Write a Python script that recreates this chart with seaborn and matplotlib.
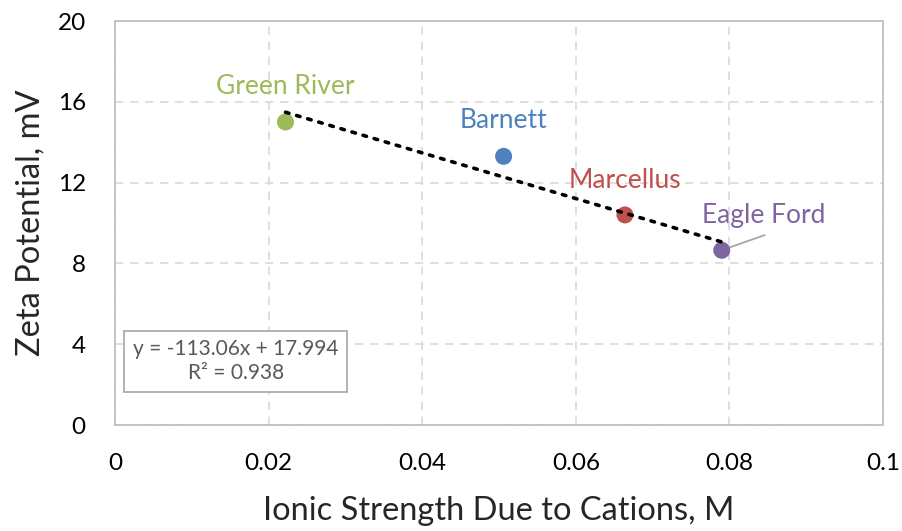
import matplotlib
matplotlib.use("Agg")
import matplotlib.pyplot as plt
import seaborn as sns
import numpy as np
import pandas as pd

# Shale samples: ionic strength from cations vs. measured zeta potential
shales = ["Green River", "Barnett", "Marcellus", "Eagle Ford"]
ionic_strength = [0.0222, 0.0506, 0.0664, 0.0790]
zeta_mv = [15.0, 13.3, 10.4, 8.65]
colors = ["#9BBB59", "#4F81BD", "#C0504D", "#8064A2"]

# Linear trendline as reported
slope = -113.06
intercept = 17.994
r_squared = 0.938

x_ticks = [0, 0.02, 0.04, 0.06, 0.08, 0.1]
x_tick_labels = ["0", "0.02", "0.04", "0.06", "0.08", "0.1"]
y_ticks = [0, 4, 8, 12, 16, 20]

df = pd.DataFrame({"shale": shales, "I": ionic_strength, "zeta": zeta_mv})

sns.set_theme(style="white")
plt.rcParams["font.family"] = ["Lato", "DejaVu Sans"]

fig = plt.figure(figsize=(9.03, 5.31), dpi=100)
ax = fig.add_axes([115 / 903, 1 - 425 / 531, (883 - 115) / 903, (425 - 21) / 531])

sns.scatterplot(data=df, x="I", y="zeta", hue="shale", palette=colors,
                s=150, edgecolor="none", legend=False, ax=ax, zorder=3)

xs = np.array([min(ionic_strength), max(ionic_strength)])
ax.plot(xs, slope * xs + intercept, color="black", linestyle=(0, (1, 2.2)),
        linewidth=2.6, dash_capstyle="round", zorder=4)

ax.set_xlim(0, 0.1)
ax.set_ylim(0, 20)
ax.set_xticks(x_ticks)
ax.set_xticklabels(x_tick_labels)
ax.set_yticks(y_ticks)
ax.grid(True, color="#D9D9D9", linestyle=(0, (5, 4)), linewidth=1.2)
for sp in ax.spines.values():
    sp.set_color("#BFBFBF")
    sp.set_linewidth(1.3)
ax.tick_params(axis="both", length=0, labelsize=17.5, colors="#000000")
ax.tick_params(axis="x", pad=20)
ax.tick_params(axis="y", pad=21)

ax.set_xlabel("Ionic Strength Due to Cations, M", fontsize=23.5)
ax.set_ylabel("Zeta Potential, mV", fontsize=23.5)
ax.xaxis.set_label_coords(0.5, -0.175)
ax.yaxis.set_label_coords(-0.09, 0.5)

# Sample name labels
offsets = {"Green River": (0.0, 1.75), "Barnett": (0.0, 1.75),
           "Marcellus": (0.0, 1.7), "Eagle Ford": (0.0055, 1.7)}
for name, xv, yv, c in zip(shales, ionic_strength, zeta_mv, colors):
    dx, dy = offsets[name]
    ax.text(xv + dx, yv + dy, name, color=c, fontsize=19,
            ha="center", va="center", zorder=5)

# Leader line for Eagle Ford label
ax.plot([0.0797, 0.0846], [8.75, 9.4], color="#A6A6A6", linewidth=1.3, zorder=2)

# Trendline equation box
ax.text(0.0157, 3.15, f"y = {slope}x + {intercept}\nR² = {r_squared}",
        ha="center", va="center", fontsize=15, color="#595959",
        linespacing=1.25, zorder=6,
        bbox=dict(boxstyle="square,pad=0.4", facecolor="white",
                  edgecolor="#A6A6A6", linewidth=1.2))

fig.savefig("out.png", dpi=100)
